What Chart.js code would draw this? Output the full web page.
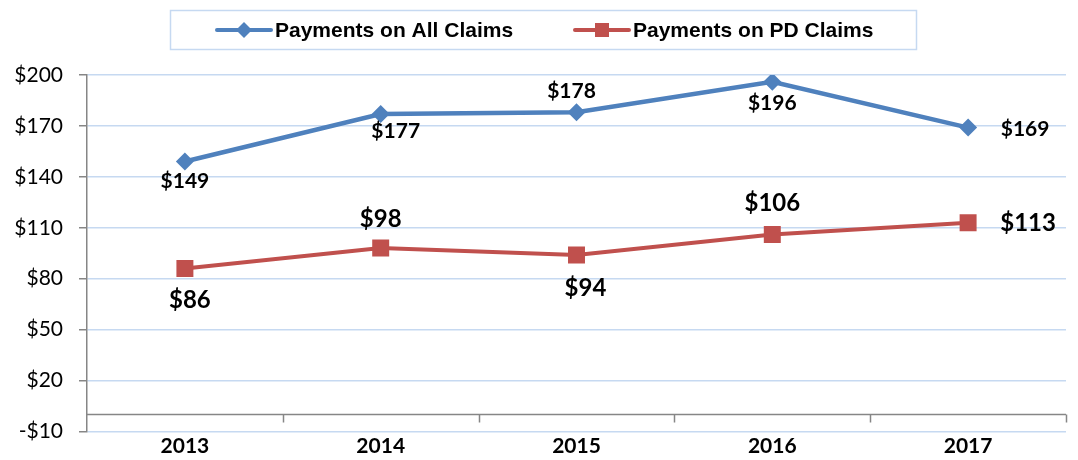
<!DOCTYPE html>
<html>
<head>
<meta charset="utf-8">
<script src="https://cdn.jsdelivr.net/npm/chart.js@4/dist/chart.umd.min.js"></script>
<style>
  html, body { margin: 0; padding: 0; background: #fff; }
  #wrap { width: 1078px; height: 460px; }
</style>
</head>
<body>
<div id="wrap"><canvas id="claims_chart"></canvas></div>
<script>
var years = ["2013", "2014", "2015", "2016", "2017"];
var allClaims = [149, 177, 178, 196, 169];
var pdClaims = [86, 98, 94, 106, 113];
var yTicks = [-10, 20, 50, 80, 110, 140, 170, 200];

var blue = '#4f81bd';
var red = '#c0504d';
var axisGray = '#868686';
var gridBlue = '#c6d9f1';

// where each value label sits, relative to its point (dx, dy)
var labelOffsets = [
    [[0, 20], [15, 17], [-5, -21], [0, 21], [57, 2]],
    [[5, 32], [0, -29], [9, 33], [0, -31], [60, 1]]
];
var labelFonts = ['bold 21px Lato', 'bold 24px Lato'];

function money(v) {
    return (v < 0 ? '-$' : '$') + Math.abs(v);
}

var extras = {
    id: 'extras',
    afterDraw: function (chart) {
        var ctx = chart.ctx;
        var area = chart.chartArea;
        var x = chart.scales.x;
        var y = chart.scales.y;

        // axis line at zero with category boundary ticks
        var y0 = Math.round(y.getPixelForValue(0)) + 0.5;
        ctx.save();
        ctx.strokeStyle = axisGray;
        ctx.lineWidth = 1.5;
        ctx.beginPath();
        ctx.moveTo(area.left, y0);
        ctx.lineTo(area.right, y0);
        var half = (x.getPixelForValue(1) - x.getPixelForValue(0)) / 2;
        for (var i = 0; i < years.length; i++) {
            var bx = Math.round(x.getPixelForValue(i) + half) + 0.5;
            ctx.moveTo(bx, y0);
            ctx.lineTo(bx, y0 + 8);
        }
        ctx.stroke();
        ctx.restore();

        // value labels
        ctx.save();
        ctx.fillStyle = '#000';
        ctx.textAlign = 'center';
        ctx.textBaseline = 'middle';
        chart.data.datasets.forEach(function (ds, di) {
            var meta = chart.getDatasetMeta(di);
            ctx.font = labelFonts[di];
            meta.data.forEach(function (pt, pi) {
                var off = labelOffsets[di][pi];
                ctx.fillText(money(ds.data[pi]), pt.x + off[0], pt.y + off[1]);
            });
        });
        ctx.restore();

        // legend box
        ctx.save();
        ctx.strokeStyle = gridBlue;
        ctx.lineWidth = 1.5;
        ctx.strokeRect(170.5, 10.5, 746, 39);
        ctx.font = 'bold 21px "Liberation Sans"';
        ctx.textBaseline = 'middle';
        ctx.textAlign = 'left';
        var starts = [217, 575];
        chart.data.datasets.forEach(function (ds, di) {
            var sx = starts[di];
            var cy = 30;
            ctx.strokeStyle = ds.borderColor;
            ctx.lineWidth = 4;
            ctx.lineCap = 'round';
            ctx.beginPath();
            ctx.moveTo(sx, cy);
            ctx.lineTo(sx + 54, cy);
            ctx.stroke();
            ctx.fillStyle = ds.borderColor;
            var mx = sx + 27;
            if (ds.pointStyle === 'rectRot') {
                ctx.beginPath();
                ctx.moveTo(mx, cy - 8);
                ctx.lineTo(mx + 8, cy);
                ctx.lineTo(mx, cy + 8);
                ctx.lineTo(mx - 8, cy);
                ctx.closePath();
                ctx.fill();
            } else {
                ctx.fillRect(mx - 7, cy - 7, 14, 14);
            }
            ctx.fillStyle = '#000';
            ctx.fillText(ds.label, sx + 58, cy + 1);
        });
        ctx.restore();
    }
};

var ctx = document.getElementById('claims_chart');

var lineGraph = new Chart(ctx, {
    type: 'line',
    data: {
        labels: years,
        datasets: [
            {
                label: 'Payments on All Claims',
                data: allClaims,
                borderColor: blue,
                backgroundColor: blue,
                borderWidth: 4.5,
                pointStyle: 'rectRot',
                pointRadius: 9,
                pointBorderWidth: 0,
                tension: 0
            },
            {
                label: 'Payments on PD Claims',
                data: pdClaims,
                borderColor: red,
                backgroundColor: red,
                borderWidth: 4,
                pointStyle: 'rect',
                pointRadius: 12,
                pointBorderWidth: 0,
                tension: 0
            }
        ]
    },
    options: {
        responsive: true,
        maintainAspectRatio: false,
        animation: false,
        layout: { padding: { top: 75, right: 4, left: 0, bottom: 0 } },
        plugins: {
            legend: { display: false },
            tooltip: { enabled: false }
        },
        scales: {
            x: {
                offset: true,
                grid: { display: false, drawTicks: false, offset: true },
                border: { display: false },
                ticks: {
                    color: '#000',
                    font: { family: 'Lato', size: 21, weight: 'bold' },
                    padding: 2
                },
                afterFit: function (scale) { scale.height = 24; }
            },
            y: {
                min: -10,
                max: 200,
                afterBuildTicks: function (scale) {
                    scale.ticks = yTicks.map(function (v) { return { value: v }; });
                },
                grid: {
                    color: gridBlue,
                    lineWidth: 1.5,
                    tickColor: axisGray,
                    tickLength: 8
                },
                border: { color: axisGray, width: 1.5 },
                ticks: {
                    color: '#000',
                    font: { family: 'Lato', size: 21 },
                    padding: 16,
                    callback: function (v) { return money(v); }
                },
                afterFit: function (scale) { scale.width = 87; }
            }
        }
    },
    plugins: [extras]
});
</script>
</body>
</html>
